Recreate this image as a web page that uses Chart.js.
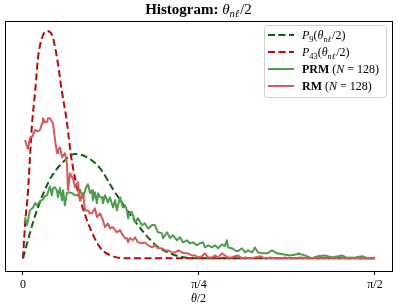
<!DOCTYPE html>
<html>
<head>
<meta charset="utf-8">
<script src="https://cdn.jsdelivr.net/npm/chart.js@4"></script>
<style>
  html, body { margin: 0; padding: 0; background: #fff; }
  #wrap { width: 398px; height: 308px; }
</style>
</head>
<body>
<div id="wrap"><canvas id="c" width="398" height="308"></canvas></div>
<script>
// x is theta/2 in radians, y is the density
const p9X = [0, 0.022, 0.045, 0.067, 0.089, 0.112, 0.134, 0.179, 0.232, 0.286, 0.344, 0.402, 0.446, 0.491, 0.535, 0.589, 0.647, 0.723, 0.790, 1.571];
const p9Y = [0, 0.43, 0.86, 1.21, 1.52, 1.79, 2.00, 2.29, 2.48, 2.40, 2.14, 1.64, 1.29, 0.95, 0.64, 0.33, 0.14, 0.02, 0, 0];

const p43X = [0, 0.009, 0.022, 0.031, 0.040, 0.054, 0.067, 0.085, 0.107, 0.129, 0.152, 0.174, 0.196, 0.214, 0.241, 0.286, 0.344, 0.402, 0.477, 1.571];
const p43Y = [0, 0.79, 1.57, 2.38, 3.17, 3.95, 4.76, 5.24, 5.40, 5.31, 4.76, 3.95, 3.24, 2.45, 1.69, 0.90, 0.26, 0.05, 0, 0];

const prmX = [0.009, 0.018, 0.031, 0.045, 0.054, 0.062, 0.076, 0.089, 0.098, 0.107, 0.120, 0.129, 0.134, 0.143, 0.152, 0.156, 0.165, 0.174, 0.179, 0.187,
  0.196, 0.205, 0.219, 0.232, 0.245, 0.254, 0.268, 0.277, 0.286, 0.290, 0.299, 0.308, 0.312, 0.321, 0.330, 0.335, 0.344, 0.353, 0.357, 0.366,
  0.379, 0.388, 0.402, 0.411, 0.419, 0.433, 0.446, 0.455, 0.464, 0.469, 0.477, 0.486, 0.500, 0.513, 0.531, 0.544, 0.558, 0.576, 0.589, 0.602,
  0.620, 0.625, 0.643, 0.656, 0.669, 0.687, 0.701, 0.714, 0.732, 0.745, 0.759, 0.776, 0.790, 0.803, 0.812, 0.826, 0.843, 0.857, 0.870, 0.888,
  0.901, 0.910, 0.915, 0.933, 0.946, 0.959, 0.977, 0.991, 1.004, 1.022, 1.035, 1.049, 1.067, 1.089, 1.111, 1.133, 1.160, 1.191, 1.223, 1.227,
  1.258, 1.290, 1.316, 1.348, 1.379, 1.424, 1.450, 1.482, 1.513, 1.540, 1.562, 1.571];
const prmY = [0.98, 0.79, 1.14, 1.21, 1.31, 1.26, 1.36, 1.40, 1.48, 1.50, 1.71, 1.50, 1.67, 1.69, 1.60, 1.45, 1.67, 1.38, 1.62, 1.26,
  1.55, 1.57, 1.55, 1.50, 1.50, 1.64, 1.43, 1.62, 1.74, 1.76, 1.55, 1.62, 1.38, 1.57, 1.31, 1.55, 1.45, 1.45, 1.31, 1.50,
  1.33, 1.45, 1.21, 1.38, 1.14, 1.45, 1.21, 1.26, 1.14, 0.95, 1.10, 1.10, 0.86, 0.95, 0.79, 0.83, 0.71, 0.79, 0.79, 0.62,
  0.60, 0.48, 0.62, 0.48, 0.55, 0.43, 0.50, 0.38, 0.43, 0.36, 0.38, 0.31, 0.36, 0.38, 0.26, 0.31, 0.26, 0.31, 0.24, 0.33,
  0.29, 0.43, 0.26, 0.24, 0.19, 0.17, 0.24, 0.14, 0.19, 0.14, 0.26, 0.14, 0.12, 0.12, 0.19, 0.12, 0.10, 0.07, 0.10, 0.12,
  0.07, 0, 0.05, 0.07, 0.02, 0.07, 0, 0.02, 0.05, 0, 0, 0.02];

const rmX = [0.009, 0.022, 0.031, 0.040, 0.054, 0.067, 0.076, 0.085, 0.089, 0.098, 0.107, 0.112, 0.120, 0.129, 0.134, 0.143, 0.152, 0.156, 0.165, 0.174,
  0.187, 0.196, 0.201, 0.210, 0.219, 0.223, 0.232, 0.245, 0.254, 0.268, 0.277, 0.290, 0.299, 0.308, 0.321, 0.330, 0.344, 0.357, 0.366, 0.379,
  0.388, 0.402, 0.411, 0.419, 0.433, 0.446, 0.455, 0.464, 0.469, 0.477, 0.491, 0.500, 0.513, 0.531, 0.544, 0.558, 0.576, 0.589, 0.602, 0.620,
  0.634, 0.647, 0.665, 0.678, 0.692, 0.710, 0.723, 0.736, 0.754, 0.768, 0.781, 0.799, 0.812, 0.826, 0.843, 0.857, 0.870, 0.888, 0.901, 0.915,
  0.933, 0.946, 0.959, 0.977, 0.991, 1.013, 1.035, 1.058, 1.080, 1.102, 1.125, 1.147, 1.169, 1.191, 1.214, 1.236, 1.281, 1.303, 1.348, 1.370,
  1.415, 1.459, 1.504, 1.571];
const rmY = [2.81, 2.60, 2.86, 2.88, 3.05, 3.02, 3.05, 3.21, 3.33, 3.24, 3.24, 3.33, 3.33, 3.26, 3.21, 2.81, 2.50, 2.57, 2.64, 2.40,
  2.50, 2.26, 1.62, 2.02, 1.93, 1.90, 1.69, 1.81, 1.38, 1.55, 1.14, 1.14, 1.07, 1.07, 1.19, 0.98, 1.07, 0.90, 0.74, 0.83,
  0.71, 0.74, 0.67, 0.62, 0.67, 0.55, 0.48, 0.48, 0.38, 0.48, 0.43, 0.50, 0.38, 0.36, 0.38, 0.31, 0.26, 0.31, 0.24, 0.24,
  0.19, 0.19, 0.14, 0.14, 0.19, 0.14, 0.12, 0.12, 0.07, 0.07, 0.02, 0.05, 0.12, 0.02, 0.02, 0.07, 0.02, 0.12, 0.07, 0.02,
  0.02, 0.05, 0.07, 0, 0.02, 0, 0.02, 0.05, 0, 0.02, 0, 0, 0.02, 0, 0, 0.02, 0, 0.02, 0, 0.02,
  0, 0.02, 0, 0];

const tickValues = [0, Math.PI / 4, Math.PI / 2];
const tickLabels = ['0', 'π/4', 'π/2'];

const SERIF = '"Liberation Serif", "DejaVu Serif", serif';
const colP9 = '#0a640a';
const colP43 = '#b40a0a';
const colPRM = '#4f9b4f';
const colRM = '#d35b5b';

const pts = (xs, ys) => xs.map((x, i) => ({x, y: ys[i]}));

// rich text: segments of {t, b, i, sub}
function richWidth(ctx, segs, size) {
  let w = 0;
  segs.forEach(s => {
    ctx.font = (s.i ? 'italic ' : '') + (s.b ? 'bold ' : '') + (s.sub ? size * 0.7 : size) + 'px ' + SERIF;
    w += ctx.measureText(s.t).width + (s.gap || 0);
  });
  return w;
}
function drawRich(ctx, segs, x, y, size) {
  let cx = x;
  ctx.textAlign = 'left';
  ctx.textBaseline = 'alphabetic';
  segs.forEach(s => {
    ctx.font = (s.i ? 'italic ' : '') + (s.b ? 'bold ' : '') + (s.sub ? size * 0.7 : size) + 'px ' + SERIF;
    ctx.fillText(s.t, cx, s.sub ? y + size * 0.22 : y);
    cx += ctx.measureText(s.t).width + (s.gap || 0);
  });
}

const legendItems = [
  {color: colP9, dash: [7, 3.5], segs: [{t: 'P', i: 1}, {t: '9', sub: 1}, {t: '('}, {t: 'θ', i: 1}, {t: 'nℓ', i: 1, sub: 1, gap: 1}, {t: '/2)'}]},
  {color: colP43, dash: [7, 3.5], segs: [{t: 'P', i: 1}, {t: '43', sub: 1}, {t: '('}, {t: 'θ', i: 1}, {t: 'nℓ', i: 1, sub: 1, gap: 1}, {t: '/2)'}]},
  {color: colPRM, dash: [], segs: [{t: 'PRM', b: 1}, {t: ' ('}, {t: 'N', i: 1}, {t: ' = 128)'}]},
  {color: colRM, dash: [], segs: [{t: 'RM', b: 1}, {t: ' ('}, {t: 'N', i: 1}, {t: ' = 128)'}]}
];

const decor = {
  id: 'decor',
  afterDatasetsDraw(chart) {
    const ctx = chart.ctx;
    const a = chart.chartArea;
    ctx.save();
    // frame
    ctx.strokeStyle = '#000';
    ctx.lineWidth = 1;
    ctx.setLineDash([]);
    ctx.strokeRect(Math.round(a.left) + 0.5, Math.round(a.top) + 0.5, Math.round(a.right - a.left), Math.round(a.bottom - a.top));

    // title
    ctx.fillStyle = '#000';
    const title = [{t: 'Histogram: ', b: 1}, {t: 'θ', i: 1}, {t: 'nℓ', i: 1, sub: 1, gap: 1}, {t: '/2'}];
    const tw = richWidth(ctx, title, 15);
    drawRich(ctx, title, (a.left + a.right) / 2 - tw / 2, 14, 15);

    // x axis title
    const xt = [{t: 'θ', i: 1}, {t: '/2'}];
    const xw = richWidth(ctx, xt, 12);
    drawRich(ctx, xt, (a.left + a.right) / 2 - xw / 2, 302, 12);

    // legend
    const lx = 264, ly = 25, lw = 122, lh = 72;
    ctx.beginPath();
    ctx.roundRect(lx + 0.5, ly + 0.5, lw, lh, 3);
    ctx.fillStyle = 'rgba(255,255,255,0.85)';
    ctx.fill();
    ctx.strokeStyle = '#d0d0d0';
    ctx.stroke();
    legendItems.forEach((it, i) => {
      const cy = 35 + i * 17;
      ctx.beginPath();
      ctx.setLineDash(it.dash);
      ctx.strokeStyle = it.color;
      ctx.lineWidth = 2;
      ctx.moveTo(268, cy);
      ctx.lineTo(294, cy);
      ctx.stroke();
      ctx.setLineDash([]);
      ctx.fillStyle = '#000';
      drawRich(ctx, it.segs, 302, cy + 4, 12);
    });
    ctx.restore();
  }
};

new Chart(document.getElementById('c'), {
  type: 'line',
  data: {
    datasets: [
      {label: 'P9', data: pts(p9X, p9Y), borderColor: colP9, borderDash: [7, 3.5], borderWidth: 2, cubicInterpolationMode: 'monotone', order: 4},
      {label: 'P43', data: pts(p43X, p43Y), borderColor: colP43, borderDash: [7, 3.5], borderWidth: 2, cubicInterpolationMode: 'monotone', order: 3},
      {label: 'PRM (N = 128)', data: pts(prmX, prmY), borderColor: colPRM, borderWidth: 2, order: 2},
      {label: 'RM (N = 128)', data: pts(rmX, rmY), borderColor: colRM, borderWidth: 2, order: 1}
    ]
  },
  options: {
    responsive: false,
    animation: false,
    events: [],
    layout: {padding: {left: 5, right: 6, top: 21, bottom: 0}},
    elements: {point: {radius: 0}, line: {borderJoinStyle: 'round', borderCapStyle: 'butt'}},
    plugins: {legend: {display: false}, title: {display: false}, tooltip: {enabled: false}},
    scales: {
      x: {
        type: 'linear',
        min: -0.0803,
        max: 1.6467,
        afterBuildTicks: scale => { scale.ticks = tickValues.map(v => ({value: v})); },
        afterFit: scale => { scale.height = 37; },
        border: {display: false},
        grid: {display: true, drawOnChartArea: false, drawTicks: true, tickLength: 4, color: '#000', tickColor: '#000'},
        ticks: {
          color: '#000',
          padding: 3,
          maxRotation: 0,
          autoSkip: false,
          font: {family: SERIF, size: 12},
          callback: v => tickLabels[tickValues.findIndex(t => Math.abs(t - v) < 1e-6)]
        }
      },
      y: {
        display: false,
        min: -0.30,
        max: 5.64
      }
    }
  },
  plugins: [decor]
});
</script>
</body>
</html>
